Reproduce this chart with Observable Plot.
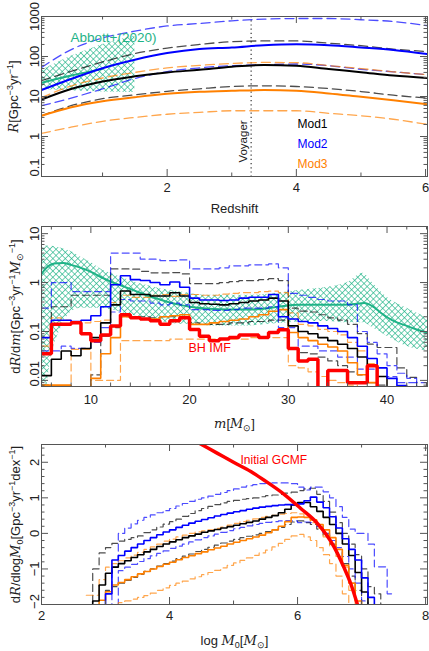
<!DOCTYPE html>
<html><head><meta charset="utf-8">
<script src="https://cdn.jsdelivr.net/npm/d3@7"></script>
<script src="https://cdn.jsdelivr.net/npm/@observablehq/plot@0.6"></script>
<style>
html,body{margin:0;padding:0;background:#fff;overflow:hidden;}
#chart{width:429px;height:651px;}
#chart svg{display:block;}
</style></head><body><div id="chart"></div>
<script>
// ================= DATA =================
// ---- Panel 1: merger rate vs redshift ----
const redshift = [0.055, 0.5, 1, 1.5, 2, 2.5, 3, 3.5, 4, 4.5, 5, 5.5, 6.03];
const mod1R    = [8.4, 15.2, 23.8, 32, 40, 46.5, 55.5, 61.5, 58.6, 48.5, 40.5, 33.5, 29];
const mod1RHi  = [25, 42, 73, 118, 162, 200, 235, 245, 245, 216, 186, 153, 133];
const mod1RLo  = [3.3, 5.8, 8.8, 11, 13.5, 15.6, 17.8, 18.5, 17.8, 15.8, 13.3, 10.8, 9.1];
const mod2R    = [14.5, 27, 51, 83, 122, 155, 168, 192, 203, 192, 168, 145, 115];
const mod2RHi  = [53, 145, 290, 430, 580, 670, 780, 860, 890, 890, 830, 750, 590];
const mod2RLo  = [5.9, 9, 15.5, 28, 42, 52, 59, 62, 65, 59, 48, 41.5, 35];
const mod3R    = [3.3, 5.3, 7.6, 9.6, 11.7, 13.1, 13.9, 14.5, 13.9, 11.9, 9.8, 8.1, 6.4];
const mod3RHi  = [9.4, 18, 29, 40, 52, 60, 67, 71, 70, 59, 50, 41.5, 35];
const mod3RLo  = [1.19, 1.7, 2.4, 3.0, 3.6, 4.0, 4.4, 4.4, 4.4, 3.8, 3.3, 2.7, 2.0];
const abbottBandZ  = [0.055, 0.5, 1.0, 1.5];
const abbottBandLo = [15, 14, 13, 12.5];
const abbottBandHi = [45, 100, 200, 330];
const abbottZ = [0.055, 0.5, 1.0];
const abbottR = [22, 33, 49];
const voyagerZ = 3.3;
const modNames = ["Mod1", "Mod2", "Mod3"];
const p1XTicks = [2, 4, 6], p1XMinor = [1, 3, 5];
const p1YTicks = [0.1, 1, 10, 100, 1000];
const p1YLabels = ["0.1", "1", "10", "100", "1000"];

// ---- Panel 2: dR/dm histograms (bin edges, values per bin) ----
const massEdges = [5,6,7,8,9,10,11,12,13,14,15,16,17,18,19,20,21,22,23,24,25,26,27,28,29,30,31,32,33,34,35,36,37,38,39,40,41,42,43,44];
const mod1M   = [0.0125,0.027,0.04,0.032,0.045, 0.075,0.15,0.35,0.67,0.57, 0.57,0.53,0.53,0.62,0.53, 0.39,0.37,0.36,0.35,0.37, 0.39,0.42,0.44,0.48,0.42, 0.13,0.10,0.09,0.075,0.065, 0.055,0.045,0.03,0.02,0.012, 0.001,0.001,0.001,0.001];
const mod1MHi = [0.1,0.32,0.32,0.55,0.55, 0.55,0.55,1.9,1.9,1.88, 1.7,1.58,1.58,1.6,1.5, 0.95,0.95,0.95,1.0,1.05, 1.1,1.1,1.15,1.2,1.1, 0.3,0.26,0.25,0.22,0.19, 0.17,0.14,0.09,0.055,0.047, 0.047,0.018,0.0115,0.001];
const mod1MLo = [0.008,0.001,0.001,0.001,0.001, 0.013,0.08,0.12,0.2,0.2, 0.2,0.19,0.2,0.2,0.2, 0.15,0.14,0.14,0.14,0.15, 0.15,0.16,0.16,0.17,0.17, 0.047,0.037,0.035,0.03,0.025, 0.02,0.015,0.013,0.009,0.008, 0.001,0.001,0.001,0.001];
const mod2M   = [0.075,0.17,0.17,0.16,0.17, 0.21,0.32,0.9,1.38,1.15, 1.1,1.0,0.9,1.03,0.8, 0.48,0.44,0.44,0.43,0.44, 0.48,0.5,0.5,0.57,0.2, 0.18,0.16,0.15,0.13,0.115, 0.1,0.075,0.05,0.028,0.018, 0.011,0.0078,0.001,0.001];
const mod2MHi = [0.3,1.0,1.0,0.65,0.65, 0.65,0.65,4.0,4.0,4.0, 3.0,3.0,2.8,2.8,2.9, 1.9,1.9,1.9,2.0,2.2, 2.2,2.3,2.3,2.4,2.0, 0.6,0.55,0.5,0.45,0.42, 0.42,0.35,0.1,0.06,0.035, 0.02,0.014,0.011,0.009];
const mod2MLo = [0.04,0.04,0.05,0.045,0.045, 0.06,0.12,0.25,0.45,0.42, 0.42,0.38,0.35,0.38,0.35, 0.28,0.28,0.27,0.27,0.28, 0.3,0.3,0.3,0.32,0.12, 0.12,0.05,0.05,0.04,0.04, 0.03,0.03,0.017,0.017,0.012, 0.012,0.009,0.009,0.001];
const mod3M   = [0.008,0.008,0.008,0.006,0.006, 0.011,0.035,0.075,0.2,0.19, 0.18,0.18,0.2,0.21,0.22, 0.14,0.14,0.15,0.16,0.17, 0.18,0.2,0.22,0.26,0.28, 0.095,0.075,0.065,0.055,0.048, 0.04,0.023,0.013,0.009,0.001, 0.001,0.001,0.001,0.001];
const mod3MHi = [0.05,0.19,0.17,0.16,0.15, 0.16,0.17,0.39,0.55,0.5, 0.5,0.55,0.57,0.52,0.57, 0.57,0.55,0.55,0.58,0.6, 0.62,0.62,0.65,0.67,0.62, 0.24,0.14,0.13,0.11,0.1, 0.085,0.06,0.04,0.022,0.012, 0.001,0.001,0.001,0.001];
const mod3MLo = [0.001,0.001,0.001,0.043,0.043, 0.01,0.01,0.01,0.065,0.065, 0.065,0.065,0.065,0.07,0.07, 0.07,0.07,0.07,0.07,0.07, 0.07,0.075,0.075,0.075,0.075, 0.02,0.018,0.015,0.012,0.01, 0.009,0.008,0.001,0.001,0.001, 0.001,0.001,0.001,0.001];
const bhImf   = [0.035,0.14,0.14,0.15,0.09, 0.065,0.085,0.13,0.22,0.19, 0.18,0.165,0.14,0.165,0.19, 0.11,0.08,0.065,0.07,0.075, 0.085,0.085,0.075,0.095,0.108, 0.045,0.025,0.027,0.001,0.016, 0.016,0.009,0.009,0.02,0.001, 0.001,0.001,0.001,0.001];
const abbottMass  = [5,5.5,6.3,7.2,8,9,10,11,12,13,14,15,16,17,18,19,20,22,24,26,28,29.5,31,33,35,36.5,37.7,38.5,39.5,40.5,42,43,44.1];
const abbottDRdm  = [1.5,2.0,2.45,2.5,2.3,2.0,1.65,1.3,1.05,0.88,0.74,0.62,0.52,0.45,0.39,0.35,0.32,0.29,0.28,0.28,0.3,0.33,0.35,0.35,0.35,0.36,0.38,0.33,0.23,0.17,0.13,0.11,0.095];
const abbottBandM  = [5,6,7,8,9,10,11,12,13,14,15,16,17,18,19,20,22,24,26,28,30,32,34,36,37.6,38.5,40,42,44.1];
const abbottBandMLo = [0.001,0.03,0.12,0.25,0.3,0.3,0.3,0.28,0.25,0.22,0.2,0.18,0.16,0.15,0.14,0.14,0.13,0.13,0.13,0.14,0.15,0.16,0.16,0.15,0.15,0.12,0.08,0.05,0.04];
const abbottBandMHi = [5.6,5.5,5.0,4.3,3.3,2.6,1.9,1.55,1.3,1.1,0.95,0.85,0.75,0.7,0.65,0.6,0.55,0.55,0.55,0.58,0.65,0.72,0.8,1.0,1.55,1.0,0.5,0.3,0.19];
const p2XTicks = [10, 20, 30, 40];
const p2XMinor = [6,8,12,14,16,18,22,24,26,28,32,34,36,38,42,44];
const p2YTicks = [0.01, 0.1, 1, 10];
const p2YLabels = ["0.01", "0.1", "1", "10"];

// ---- Panel 3: dR/dlogM0 histograms ----
const logM0Edges = [2.7,2.8,2.9,3.0,3.1,3.2,3.3,3.4,3.5,3.6,3.7,3.8,3.9,4.0,4.1,4.2,4.3,4.4,4.5,4.6,4.7,4.8,4.9,5.0,5.1,5.2,5.3,5.4,5.5,5.6,5.7,5.8,5.9,6.0,6.1,6.2,6.3,6.4,6.5,6.6,6.7,6.8,6.9,7.0,7.1,7.2,7.3,7.4,7.5];
const mod1G   = [-3,-1.9,-1.45,-1.12,-0.95,-0.85,-0.77,-0.68,-0.6,-0.52,-0.45,-0.37,-0.3,-0.24,-0.18,-0.12,-0.07,-0.02,0.03,0.07,0.11,0.15,0.19,0.23,0.27,0.31,0.35,0.4,0.45,0.5,0.58,0.68,0.8,0.87,0.87,0.75,0.62,0.45,0.25,0.0,-0.3,-0.62,-1.1,-1.65,-3,-3,-3,-3];
const mod1GHi = [-3,-1.0,-0.55,-0.4,-0.28,-0.22,-0.17,-0.12,-0.07,0.02,0.1,0.18,0.26,0.33,0.4,0.48,0.56,0.64,0.7,0.76,0.81,0.86,0.9,0.93,0.96,0.98,1.0,1.03,1.06,1.08,1.1,1.13,1.16,1.2,1.25,1.27,1.1,0.9,0.6,0.3,0.0,-0.3,-0.6,-1.0,-1.5,-1.7,-3,-3];
const mod1GLo = [-3,-3,-3,-1.6,-1.5,-1.4,-1.32,-1.24,-1.15,-1.07,-1.0,-0.92,-0.85,-0.78,-0.71,-0.64,-0.58,-0.51,-0.45,-0.39,-0.33,-0.27,-0.22,-0.17,-0.12,-0.08,-0.04,0.0,0.05,0.1,0.17,0.25,0.32,0.35,0.3,0.25,0.12,-0.05,-0.3,-0.55,-0.85,-1.2,-1.6,-3,-3,-3,-3,-3];
const mod2G   = [-3,-3,-3,-1.7,-0.75,-0.62,-0.5,-0.4,-0.3,-0.2,-0.12,-0.04,0.04,0.1,0.17,0.23,0.29,0.34,0.39,0.44,0.49,0.53,0.57,0.61,0.64,0.68,0.71,0.74,0.76,0.78,0.8,0.81,0.81,0.83,0.92,1.02,0.88,0.72,0.47,0.15,-0.15,-0.45,-0.75,-1.25,-1.8,-3,-3,-3];
const mod2GHi = [-3,-3,-3,-3,-0.95,0.0,0.15,0.27,0.37,0.45,0.52,0.58,0.64,0.7,0.77,0.84,0.9,0.96,1.0,1.05,1.1,1.15,1.2,1.25,1.3,1.34,1.37,1.4,1.41,1.42,1.42,1.42,1.4,1.3,1.22,1.3,1.3,1.17,1.0,0.75,0.45,0.12,0.0,0.0,-0.3,-0.94,-0.94,-1.7];
const mod2GLo = [-3,-3,-3,-3,-3,-1.05,-0.95,-0.87,-0.79,-0.71,-0.63,-0.56,-0.49,-0.42,-0.36,-0.3,-0.24,-0.18,-0.12,-0.07,-0.02,0.03,0.08,0.13,0.17,0.21,0.25,0.28,0.31,0.33,0.35,0.36,0.35,0.3,0.32,0.3,0.2,0.0,-0.2,-0.4,-0.65,-1.0,-1.4,-1.9,-3,-3,-3,-3];
const mod3G   = [-3,-3,-1.88,-1.64,-1.45,-1.38,-1.3,-1.22,-1.14,-1.07,-1.0,-0.93,-0.87,-0.81,-0.74,-0.68,-0.63,-0.57,-0.52,-0.46,-0.41,-0.36,-0.3,-0.25,-0.2,-0.15,-0.1,-0.05,0.02,0.1,0.2,0.33,0.45,0.46,0.45,0.38,0.25,0.1,-0.12,-0.45,-0.9,-1.4,-1.9,-3,-3,-3,-3,-3];
const mod3GHi = [-1.74,-1.74,-1.3,-0.95,-0.85,-0.77,-0.69,-0.61,-0.53,-0.45,-0.38,-0.3,-0.22,-0.16,-0.1,-0.05,0.0,0.04,0.07,0.1,0.14,0.18,0.23,0.28,0.33,0.37,0.41,0.45,0.48,0.51,0.54,0.56,0.58,0.55,0.45,0.3,0.15,-0.1,-0.35,-0.65,-0.95,-1.6,-3,-3,-3,-3,-3,-3];
const mod3GLo = [-3,-3,-3,-3,-3,-1.95,-1.9,-1.85,-1.8,-1.75,-1.68,-1.6,-1.53,-1.46,-1.4,-1.34,-1.28,-1.22,-1.16,-1.1,-1.04,-0.97,-0.9,-0.83,-0.76,-0.69,-0.62,-0.55,-0.47,-0.38,-0.28,-0.17,-0.07,-0.03,-0.1,-0.2,-0.4,-0.6,-0.85,-1.2,-1.7,-3,-3,-3,-3,-3,-3,-3];
const gcmfLogM = [4.45, 4.75, 5.0, 5.27, 5.5, 5.79, 6.05, 6.31, 6.57, 6.72, 6.83, 6.93, 6.96];
const gcmfVal  = [2.55, 2.25, 2.0, 1.74, 1.47, 1.1, 0.7, 0.28, -0.38, -0.94, -1.41, -1.97, -2.15];
const p3XTicks = [2, 4, 6, 8], p3XMinor = [3, 5, 7];
const p3YTicks = [-2, -1, 0, 1, 2];
const p3YLabels = ["−2", "−1", "0", "1", "2"];

// ================= STYLE =================
const FONT = "'Liberation Sans', Arial, Helvetica, sans-serif";
const BLACK = "#000000", BLUE = "#0000ff", ORANGE = "#ff8000", RED = "#ff0000", GREEN = "#1fb387";
const W = 429, ML = 41, MR = 2, PW = W - ML - MR, PH = 160;

function pts(xs, ys) { return xs.map((x, i) => ({x, y: ys[i]})); }
function band(xs, lo, hi) { return xs.map((x, i) => ({x, lo: lo[i], hi: hi[i]})); }
function stepPts(edges, vals) {
  const d = vals.map((v, i) => ({x: edges[i], y: v}));
  d.push({x: edges[vals.length], y: vals[vals.length - 1]});
  return d;
}
function stepLine(edges, vals, o) {
  return Plot.line(stepPts(edges, vals), {x: "x", y: "y", curve: "step-after", clip: true, strokeLinejoin: "miter", ...o});
}
const dashed = (c) => ({stroke: c, strokeWidth: 1.2, strokeOpacity: 0.7, strokeDasharray: "7,4"});
const solid = (c, w = 1.6) => ({stroke: c, strokeWidth: w});

function tickMarks(xMaj, xMin, yMaj, yMin) {
  const s = {stroke: "#555", strokeWidth: 1, clip: true};
  const M = 7, m = 3.5;
  return [
    Plot.tickX(xMaj, {x: d => d, ...s, insetTop: PH - M}),
    Plot.tickX(xMaj, {x: d => d, ...s, insetBottom: PH - M}),
    Plot.tickX(xMin, {x: d => d, ...s, insetTop: PH - m}),
    Plot.tickX(xMin, {x: d => d, ...s, insetBottom: PH - m}),
    Plot.tickY(yMaj, {y: d => d, ...s, insetRight: PW - M}),
    Plot.tickY(yMaj, {y: d => d, ...s, insetLeft: PW - M}),
    Plot.tickY(yMin, {y: d => d, ...s, insetRight: PW - m}),
    Plot.tickY(yMin, {y: d => d, ...s, insetLeft: PW - m}),
    Plot.frame({stroke: "#555", strokeWidth: 1})
  ];
}
function xLabels(vals, dy) {
  return Plot.text(vals, {x: d => d, text: d => String(d), frameAnchor: "bottom", dy, lineAnchor: "top", fontSize: 13, fill: "#222"});
}
function yLabel(v, label, anchor, dy = 0) {
  return Plot.text([v], {y: d => d, text: () => label, frameAnchor: "left", dx: -3, dy, rotate: -90,
    lineAnchor: "bottom", textAnchor: anchor, fontSize: 13, fill: "#222"});
}
function yTitle(t, dx) {
  return Plot.text([t], {text: d => d, frameAnchor: "left", dx, rotate: -90, lineAnchor: "middle", textAnchor: "middle", fontSize: 13, fill: "#222"});
}
function xTitle(t, dy) {
  return Plot.text([t], {text: d => d, frameAnchor: "bottom", dy, lineAnchor: "middle", textAnchor: "middle", fontSize: 13, fill: "#222"});
}
function logMinor(domain) {
  return d3.scaleLog().domain(domain).ticks().filter(t => Math.abs(Math.log10(t) - Math.round(Math.log10(t))) > 1e-6);
}
function addHatch(svg, id) {
  d3.select(svg).insert("defs", ":first-child").html(
    `<pattern id="${id}" patternUnits="userSpaceOnUse" width="4.4" height="4.4" patternTransform="rotate(45)">` +
    `<path d="M0,2.2H4.4M2.2,0V4.4" stroke="${GREEN}" stroke-width="0.7" stroke-opacity="0.9" fill="none"/></pattern>`);
}
function setRich(svg, plain, html) {
  d3.select(svg).selectAll("text").filter(function () { return this.textContent === plain; }).html(html);
}
const IT = (s) => `<tspan font-style="italic" font-family="'DejaVu Serif', serif" font-size="13">${s}</tspan>`;
const baseStyle = {fontFamily: FONT, fontSize: "13px", background: "white", overflow: "visible"};

// ================= PANEL 1 =================
const p1 = Plot.plot({
  width: W, height: 215, marginLeft: ML, marginRight: MR, marginTop: 16, marginBottom: 39,
  style: baseStyle,
  x: {domain: [0.055, 6.03], axis: null},
  y: {type: "log", domain: [0.1, 1000], axis: null},
  marks: [
    Plot.areaY(band(abbottBandZ, abbottBandLo, abbottBandHi), {x: "x", y1: "lo", y2: "hi", fill: "url(#hatch1)", clip: true}),
    Plot.ruleX([voyagerZ], {x: d => d, stroke: "#333", strokeWidth: 1.2, strokeDasharray: "1.2,3"}),
    Plot.text([voyagerZ], {x: d => d, text: () => "Voyager", frameAnchor: "bottom", dy: -35, dx: -8, rotate: -90, lineAnchor: "middle", textAnchor: "middle", fontSize: 11.5, fill: "#222"}),
    Plot.line(pts(redshift, mod1RHi), {x: "x", y: "y", curve: "monotone-x", clip: true, ...dashed(BLACK), strokeDasharray: "9,5", strokeWidth: 1.3}),
    Plot.line(pts(redshift, mod1RLo), {x: "x", y: "y", curve: "monotone-x", clip: true, ...dashed(BLACK), strokeDasharray: "9,5", strokeWidth: 1.3}),
    Plot.line(pts(redshift, mod2RHi), {x: "x", y: "y", curve: "monotone-x", clip: true, ...dashed(BLUE), strokeDasharray: "9,5", strokeWidth: 1.3}),
    Plot.line(pts(redshift, mod2RLo), {x: "x", y: "y", curve: "monotone-x", clip: true, ...dashed(BLUE), strokeDasharray: "9,5", strokeWidth: 1.3}),
    Plot.line(pts(redshift, mod3RHi), {x: "x", y: "y", curve: "monotone-x", clip: true, ...dashed(ORANGE), strokeDasharray: "9,5", strokeWidth: 1.3}),
    Plot.line(pts(redshift, mod3RLo), {x: "x", y: "y", curve: "monotone-x", clip: true, ...dashed(ORANGE), strokeDasharray: "9,5", strokeWidth: 1.3}),
    Plot.line(pts(abbottZ, abbottR), {x: "x", y: "y", curve: "monotone-x", clip: true, stroke: GREEN, strokeWidth: 2}),
    Plot.line(pts(redshift, mod3R), {x: "x", y: "y", curve: "monotone-x", clip: true, ...solid(ORANGE, 2)}),
    Plot.line(pts(redshift, mod1R), {x: "x", y: "y", curve: "monotone-x", clip: true, ...solid(BLACK, 2)}),
    Plot.line(pts(redshift, mod2R), {x: "x", y: "y", curve: "monotone-x", clip: true, ...solid(BLUE, 2)}),
    Plot.text(["Abbott+(2020)"], {text: d => d, frameAnchor: "top-left", dx: 29, dy: 21, lineAnchor: "middle", textAnchor: "start", fontSize: 13.5, fill: GREEN}),
    Plot.text([modNames[0]], {text: d => d, frameAnchor: "bottom-left", dx: 256, dy: -52, lineAnchor: "middle", textAnchor: "start", fontSize: 12, fill: BLACK}),
    Plot.text([modNames[1]], {text: d => d, frameAnchor: "bottom-left", dx: 256, dy: -32, lineAnchor: "middle", textAnchor: "start", fontSize: 12, fill: BLUE}),
    Plot.text([modNames[2]], {text: d => d, frameAnchor: "bottom-left", dx: 256, dy: -12, lineAnchor: "middle", textAnchor: "start", fontSize: 12, fill: ORANGE}),
    ...tickMarks(p1XTicks, p1XMinor, p1YTicks, logMinor([0.1, 1000])),
    xLabels(p1XTicks, 6),
    yLabel(p1YTicks[0], p1YLabels[0], "start"),
    yLabel(p1YTicks[1], p1YLabels[1], "middle"),
    yLabel(p1YTicks[2], p1YLabels[2], "middle"),
    yLabel(p1YTicks[3], p1YLabels[3], "middle"),
    yLabel(p1YTicks[4], p1YLabels[4], "middle", 0),
    yTitle("R[Gpc−3yr−1]", -28),
    xTitle("Redshift", 32)
  ]
});
addHatch(p1, "hatch1");
setRich(p1, "R[Gpc−3yr−1]", `${IT("R")}[Gpc<tspan dy="-5" font-size="9">−3</tspan><tspan dy="5">yr</tspan><tspan dy="-5" font-size="9">−1</tspan><tspan dy="5">]</tspan>`);

// ================= PANEL 2 =================
const p2 = Plot.plot({
  width: W, height: 215, marginLeft: ML, marginRight: MR, marginTop: 11, marginBottom: 44,
  style: baseStyle,
  x: {domain: [5, 44.1], axis: null},
  y: {type: "log", domain: [0.0075, 14], axis: null},
  marks: [
    Plot.areaY(band(abbottBandM, abbottBandMLo, abbottBandMHi), {x: "x", y1: "lo", y2: "hi", fill: "url(#hatch2)", curve: "monotone-x", clip: true}),
    Plot.line(pts(abbottMass, abbottDRdm), {x: "x", y: "y", curve: "monotone-x", clip: true, stroke: GREEN, strokeWidth: 2}),
    stepLine(massEdges, mod1MHi, dashed(BLACK)),
    stepLine(massEdges, mod1MLo, dashed(BLACK)),
    stepLine(massEdges, mod2MHi, dashed(BLUE)),
    stepLine(massEdges, mod2MLo, dashed(BLUE)),
    stepLine(massEdges, mod3MHi, dashed(ORANGE)),
    stepLine(massEdges, mod3MLo, dashed(ORANGE)),
    stepLine(massEdges, mod3M, solid(ORANGE)),
    stepLine(massEdges, mod1M, solid(BLACK)),
    stepLine(massEdges, mod2M, solid(BLUE)),
    stepLine(massEdges, bhImf, solid(RED, 3.5)),
    Plot.text(["BH IMF"], {text: d => d, frameAnchor: "top-left", dx: 147, dy: 121, lineAnchor: "middle", textAnchor: "start", fontSize: 12.5, fill: RED}),
    ...tickMarks(p2XTicks, p2XMinor, p2YTicks, logMinor([0.0075, 14])),
    xLabels(p2XTicks, 8),
    yLabel(p2YTicks[0], p2YLabels[0], "start", 6),
    yLabel(p2YTicks[1], p2YLabels[1], "middle"),
    yLabel(p2YTicks[2], p2YLabels[2], "middle"),
    yLabel(p2YTicks[3], p2YLabels[3], "middle"),
    yTitle("dR/dm[Gpc−3yr−1M⊙−1]", -26),
    xTitle("m[M⊙]", 37)
  ]
});
addHatch(p2, "hatch2");
setRich(p2, "dR/dm[Gpc−3yr−1M⊙−1]", `d${IT("R")}/d${IT("m")}[Gpc<tspan dy="-5" font-size="9">−3</tspan><tspan dy="5">yr</tspan><tspan dy="-5" font-size="9">−1</tspan><tspan dy="5" font-style="italic" font-family="'DejaVu Serif', serif">M</tspan><tspan dy="3" font-size="9">⊙</tspan><tspan dy="-8" font-size="9">−1</tspan><tspan dy="5">]</tspan>`);
setRich(p2, "m[M⊙]", `${IT("m")}[${IT("M")}<tspan dy="3" font-size="9">⊙</tspan><tspan dy="-3">]</tspan>`);

// ================= PANEL 3 =================
const p3 = Plot.plot({
  width: W, height: 221, marginLeft: ML, marginRight: MR, marginTop: 14, marginBottom: 47,
  style: baseStyle,
  x: {domain: [2, 8.03], axis: null},
  y: {domain: [-2, 2.5], axis: null},
  marks: [
    stepLine(logM0Edges, mod1GHi, dashed(BLACK)),
    stepLine(logM0Edges, mod1GLo, dashed(BLACK)),
    stepLine(logM0Edges, mod2GHi, dashed(BLUE)),
    stepLine(logM0Edges, mod2GLo, dashed(BLUE)),
    stepLine(logM0Edges, mod3GHi, dashed(ORANGE)),
    stepLine(logM0Edges, mod3GLo, dashed(ORANGE)),
    stepLine(logM0Edges, mod3G, solid(ORANGE)),
    stepLine(logM0Edges, mod1G, solid(BLACK)),
    stepLine(logM0Edges, mod2G, solid(BLUE)),
    Plot.line(pts(gcmfLogM, gcmfVal), {x: "x", y: "y", curve: "monotone-x", clip: true, stroke: RED, strokeWidth: 3.5}),
    Plot.text(["Initial GCMF"], {text: d => d, frameAnchor: "top-left", dx: 199, dy: 16, lineAnchor: "middle", textAnchor: "start", fontSize: 12, fill: RED}),
    ...tickMarks(p3XTicks, p3XMinor, p3YTicks, d3.ticks(-2, 2.5, 25).filter(t => Math.abs(t - Math.round(t)) > 1e-6)),
    xLabels(p3XTicks, 6),
    yLabel(p3YTicks[0], p3YLabels[0], "middle", -3),
    yLabel(p3YTicks[1], p3YLabels[1], "middle"),
    yLabel(p3YTicks[2], p3YLabels[2], "middle"),
    yLabel(p3YTicks[3], p3YLabels[3], "middle"),
    yLabel(p3YTicks[4], p3YLabels[4], "middle"),
    yTitle("dR/dlogM0[Gpc−3yr−1dex−1]", -26),
    xTitle("log M0[M⊙]", 36)
  ]
});
setRich(p3, "dR/dlogM0[Gpc−3yr−1dex−1]", `d${IT("R")}/dlog${IT("M")}<tspan dy="3" font-size="9">0</tspan><tspan dy="-3">[Gpc</tspan><tspan dy="-5" font-size="9">−3</tspan><tspan dy="5">yr</tspan><tspan dy="-5" font-size="9">−1</tspan><tspan dy="5">dex</tspan><tspan dy="-5" font-size="9">−1</tspan><tspan dy="5">]</tspan>`);
setRich(p3, "log M0[M⊙]", `log ${IT("M")}<tspan dy="3" font-size="9">0</tspan><tspan dy="-3">[</tspan>${IT("M")}<tspan dy="3" font-size="9">⊙</tspan><tspan dy="-3">]</tspan>`);

const chart = document.getElementById("chart");
chart.append(p1, p2, p3);
</script></body></html>
